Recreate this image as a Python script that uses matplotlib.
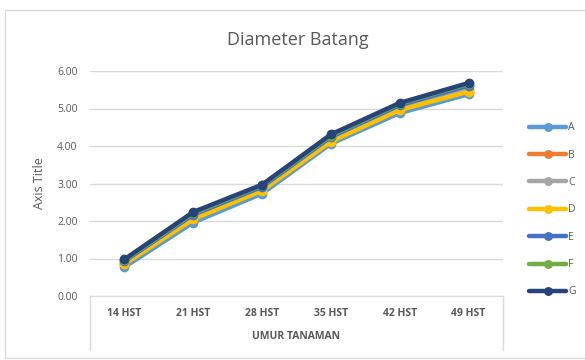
import matplotlib
matplotlib.use('Agg')
import matplotlib.pyplot as plt
from matplotlib.patches import Rectangle
from matplotlib.lines import Line2D

##### data #####

categories = ['14 HST', '21 HST', '28 HST', '35 HST', '42 HST', '49 HST']

A = [0.77, 1.96, 2.73, 4.06, 4.88, 5.38]
B = [0.86, 2.06, 2.83, 4.14, 4.97, 5.47]
C = [0.88, 2.10, 2.86, 4.17, 5.02, 5.53]
D = [0.85, 2.05, 2.81, 4.12, 4.96, 5.45]
E = [0.93, 2.17, 2.91, 4.24, 5.09, 5.61]
F = [0.96, 2.21, 2.95, 4.28, 5.13, 5.66]
G = [0.98, 2.24, 2.97, 4.31, 5.15, 5.68]

series_names = ['A', 'B', 'C', 'D', 'E', 'F', 'G']
series_values = [A, B, C, D, E, F, G]
colors = ['#5B9BD5', '#ED7D31', '#A5A5A5', '#FFC000', '#4472C4', '#70AD47', '#264478']

yticks = [0, 1, 2, 3, 4, 5, 6]

##### plot #####

plt.rcParams['font.family'] = ['Open Sans', 'DejaVu Sans']
txt = '#595959'

fig = plt.figure(figsize=(5.85, 3.6), dpi=100)
ax = fig.add_axes([90/585, 1-296/360, 413/585, 225/360])

x = list(range(len(categories)))
for name, vals, c in zip(series_names, series_values, colors):
    ax.plot(x, vals, color=c, lw=3.2, marker='o', ms=6, label=name,
            solid_capstyle='round')

ax.set_xlim(-0.5, len(categories) - 0.5)
ax.set_ylim(0, 6)
ax.set_yticks(yticks)
ax.set_yticklabels(['%.2f' % v for v in yticks], fontsize=7.5, color=txt)
ax.set_xticks(x)
ax.set_xticklabels(categories, fontsize=7.5, color=txt, fontweight='bold')
ax.tick_params(length=0, pad=9)
ax.tick_params(axis='x', pad=9)
ax.grid(axis='y', color='#D9D9D9', lw=1)
ax.set_axisbelow(True)
for s in ['top', 'right', 'left']:
    ax.spines[s].set_visible(False)
ax.spines['bottom'].set_color('#D9D9D9')

# box round the category labels
for xx in [0, 1]:
    ax.add_line(Line2D([xx, xx], [0, -0.24], transform=ax.transAxes,
                       color='#D9D9D9', lw=1, clip_on=False))

ax.set_ylabel('Axis Title', fontsize=9, color=txt, labelpad=8)
ax.set_xlabel('UMUR TANAMAN', fontsize=7.5, color=txt, fontweight='bold',
              labelpad=8)
fig.text(298/585, 1-40/360, 'Diameter Batang', fontsize=13, color=txt,
         ha='center', va='center')

leg = ax.legend(loc='upper left', bbox_to_anchor=(520/585, 1-113/360),
                bbox_transform=fig.transFigure, frameon=False, fontsize=7.5,
                labelspacing=1.57, handlelength=3.5, handletextpad=0.2,
                markerscale=0.9)
for t in leg.get_texts():
    t.set_color(txt)

# outer chart border
fig.patches.append(Rectangle((5/585, 2/360), 590/585, 348/360,
                             transform=fig.transFigure, fill=False,
                             edgecolor='#D9D9D9', lw=1))

fig.savefig('out.png', dpi=100)
